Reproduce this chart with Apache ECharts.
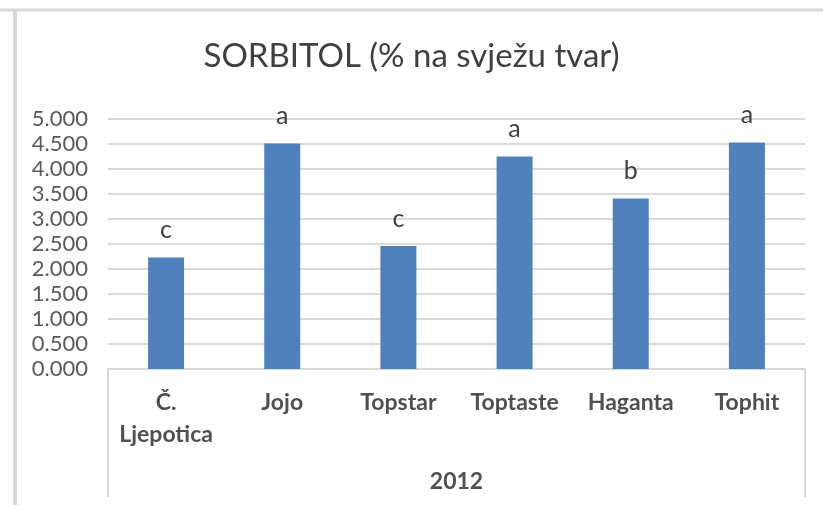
<!DOCTYPE html>
<html>
<head>
<meta charset="utf-8">
<script src="https://cdn.jsdelivr.net/npm/echarts@6/dist/echarts.min.js"></script>
<style>
  html, body { margin: 0; padding: 0; background: #fff; }
  #myChart { width: 823px; height: 505px; }
</style>
</head>
<body>
<div id="myChart"></div>
<script>
// 数据
var categories = ['Č.\nLjepotica', 'Jojo', 'Topstar', 'Toptaste', 'Haganta', 'Tophit'];
var groupLabels = ['2012'];
var sorbitol = [2.23, 4.51, 2.46, 4.25, 3.41, 4.53];
var letters = ['c', 'a', 'c', 'a', 'b', 'a'];

var fontFamily = 'Lato, "Open Sans", sans-serif';
var gridColor = '#d9d9d9';

var myChart = echarts.init(document.getElementById('myChart'));
var option = {
  backgroundColor: '#fff',
  animation: false,
  title: {
    text: 'SORBITOL (% na svježu tvar)',
    left: 'center',
    top: 35,
    textStyle: { fontFamily: fontFamily, fontSize: 33, fontWeight: 'normal', color: '#404040' }
  },
  // 外框（左、上）
  graphic: [
    { type: 'line', shape: { x1: 0, y1: 10, x2: 823, y2: 10 }, style: { stroke: gridColor, lineWidth: 3 } },
    { type: 'line', shape: { x1: 15, y1: 10, x2: 15, y2: 505 }, style: { stroke: gridColor, lineWidth: 4 } }
  ],
  grid: { left: 108, right: 18, top: 119, bottom: 136 },
  xAxis: [{
    type: 'category',
    data: categories,
    position: 'bottom',
    axisLine: { lineStyle: { color: gridColor, width: 2 } },
    axisTick: { show: false },
    axisLabel: {
      margin: 18,
      interval: 0,
      fontFamily: fontFamily,
      fontSize: 23,
      fontWeight: 'bold',
      lineHeight: 32,
      color: '#505050'
    }
  }, {
    type: 'category',
    data: groupLabels,
    position: 'bottom',
    axisLine: { show: false },
    axisTick: { show: true, length: 128, lineStyle: { color: gridColor, width: 2 } },
    axisLabel: {
      margin: 101,
      fontFamily: fontFamily,
      fontSize: 23,
      fontWeight: 'bold',
      lineHeight: 24,
      color: '#505050'
    }
  }],
  yAxis: {
    type: 'value',
    min: 0,
    max: 5,
    interval: 0.5,
    axisLine: { show: false },
    axisTick: { show: false },
    axisLabel: {
      margin: 20,
      fontFamily: fontFamily,
      fontSize: 22,
      color: '#595959',
      formatter: function (v) { return v.toFixed(3); }
    },
    splitLine: { lineStyle: { color: gridColor, width: 2 } }
  },
  series: [{
    name: 'SORBITOL',
    type: 'bar',
    xAxisIndex: 0,
    data: sorbitol,
    barWidth: 36,
    itemStyle: { color: '#4f81bd' },
    label: {
      show: true,
      position: 'top',
      distance: 15,
      fontFamily: fontFamily,
      fontSize: 25,
      color: '#404040',
      formatter: function (p) { return letters[p.dataIndex]; }
    }
  }]
};
myChart.setOption(option);
</script>
</body>
</html>
